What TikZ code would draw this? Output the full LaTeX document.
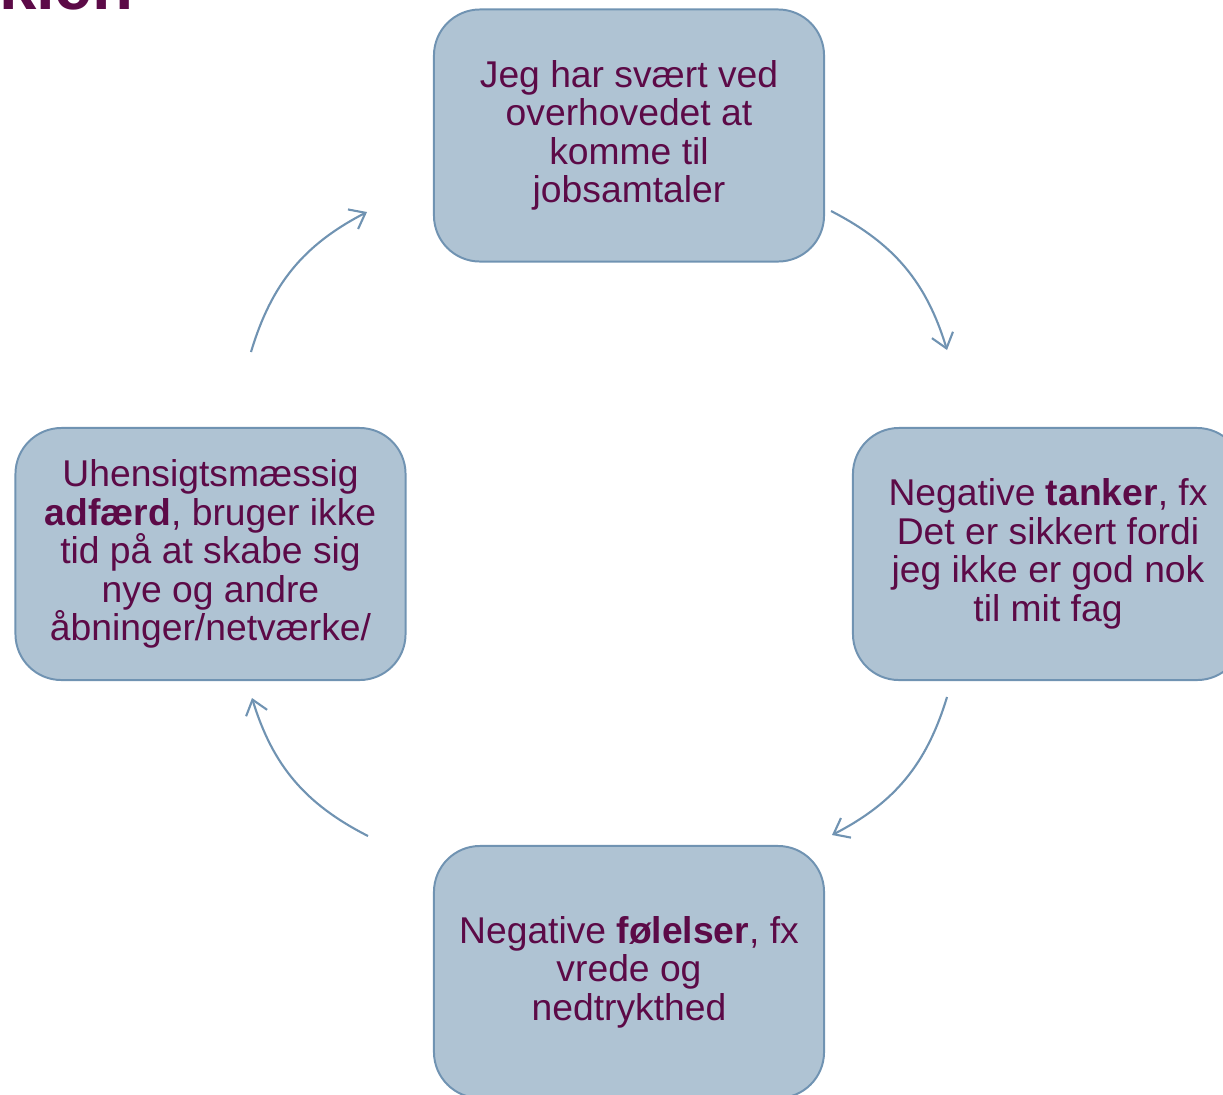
\documentclass[tikz,border=0pt]{standalone}
\usepackage{fontspec}
\setmainfont{Liberation Sans}
\usetikzlibrary{arrows.meta}
\definecolor{boxfill}{HTML}{AFC3D3}
\definecolor{boxline}{HTML}{7093B2}
\definecolor{plum}{HTML}{5C0A47}

\begin{document}
\begin{tikzpicture}[x=0.025cm, y=-0.025cm, >={Straight Barb[length=3.5mm,width=5.5mm]},
  box/.style={draw=boxline, line width=1.4pt, fill=boxfill, rounded corners=1.15cm,
    minimum width=9.75cm, minimum height=6.3cm, inner sep=0pt, align=center,
    text=plum, font=\fontsize{26.5}{27.4}\selectfont},
  cyc/.style={->, draw=boxline, line width=1.5pt, bend left=23}]
  \useasboundingbox (0,0) rectangle (1223,1094);
  \node[anchor=base east, inner sep=0pt, text=plum, font=\fontsize{47.7}{50}\selectfont\bfseries] (title) at (133.5,9) {kien};
  \node[box] (jobs) at (629,135.5) {Jeg har svært ved\\overhovedet at\\komme til\\jobsamtaler};
  \node[box] (tanker) at (1048,554) {Negative \textbf{tanker}, fx\\Det er sikkert fordi\\jeg ikke er god nok\\til mit fag};
  \node[box] (foelelser) at (629,972) {Negative \textbf{følelser}, fx\\vrede og\\nedtrykthed};
  \node[box] (adfaerd) at (210.5,554) {Uhensigtsmæssig\\\textbf{adfærd}, bruger ikke\\tid på at skabe sig\\nye og andre\\åbninger/netværke/};
  \coordinate (jobs out) at (831,211);
  \coordinate (tanker in) at (947,350);
  \coordinate (tanker out) at (947,697);
  \coordinate (foelelser in) at (832,835);
  \coordinate (foelelser out) at (368,836);
  \coordinate (adfaerd in) at (252,698);
  \coordinate (adfaerd out) at (251,352);
  \coordinate (jobs in) at (367,212);
  \draw[cyc] (jobs out) to (tanker in);
  \draw[cyc] (tanker out) to (foelelser in);
  \draw[cyc] (foelelser out) to (adfaerd in);
  \draw[cyc] (adfaerd out) to (jobs in);
\end{tikzpicture}
\end{document}
